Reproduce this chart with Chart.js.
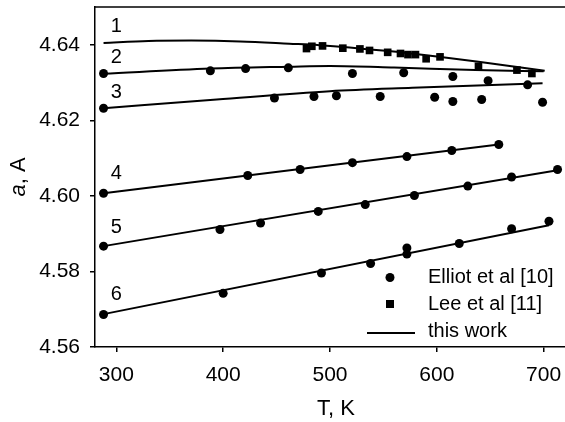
<!DOCTYPE html>
<html><head><meta charset="utf-8">
<script src="https://cdn.jsdelivr.net/npm/chart.js@4/dist/chart.umd.min.js"></script>
<style>html,body{margin:0;padding:0;background:#fff;}canvas{display:block;}</style>
</head><body>
<canvas id="c" width="565" height="422"></canvas>
<script>
// ---- data ----
const xTicks = [300, 400, 500, 600, 700];
const yTicks = [4.56, 4.58, 4.60, 4.62, 4.64];
const curveNames = ['1', '2', '3', '4', '5', '6'];
const legendNames = ['Elliot et al [10]', 'Lee et al [11]', 'this work'];
const xTitle = 'T, K';

const fit1T = [288, 330, 370, 416, 462, 490, 552, 600, 639, 670, 701];
const fit1A = [4.6405, 4.6410, 4.6411, 4.6409, 4.6403, 4.6399, 4.6384, 4.6369, 4.6355, 4.6343, 4.6331];
const fit2T = [288, 388, 462, 500, 560, 636, 700];
const fit2A = [4.6323, 4.6337, 4.6342, 4.6344, 4.6340, 4.6333, 4.6330];
const fit3T = [288, 394, 500, 577, 699];
const fit3A = [4.6232, 4.6255, 4.6277, 4.6286, 4.6298];
const fit4T = [288, 658];
const fit4A = [4.6007, 4.6136];
const fit5T = [288, 713];
const fit5A = [4.5867, 4.6068];
const fit6T = [288, 705];
const fit6A = [4.5687, 4.5922];

const elliotT = [288, 388, 421, 461, 521, 569, 615, 648,
  288, 448, 485, 506, 547, 598, 615, 642, 685, 699,
  288, 423, 472, 521, 572, 614, 658,
  288, 397, 435, 489, 533, 579, 629, 670, 713,
  288, 400, 492, 538, 572, 572, 621, 670, 705];
const elliotA = [4.6324, 4.6331, 4.6337, 4.6339, 4.6324, 4.6326, 4.6316, 4.6305,
  4.6232, 4.6259, 4.6263, 4.6265, 4.6263, 4.6261, 4.6250, 4.6255, 4.6294, 4.6248,
  4.6007, 4.6054, 4.6070, 4.6088, 4.6104, 4.6120, 4.6136,
  4.5867, 4.5911, 4.5928, 4.5959, 4.5977, 4.6001, 4.6026, 4.6050, 4.6070,
  4.5686, 4.5742, 4.5796, 4.5821, 4.5862, 4.5846, 4.5874, 4.5913, 4.5933];

const leeT = [478, 483, 493, 512, 528, 537, 554, 566, 573, 580, 590, 603, 639, 675, 689];
const leeA = [4.6390, 4.6396, 4.6397, 4.6391, 4.6389, 4.6385, 4.6380, 4.6377, 4.6374, 4.6374, 4.6363, 4.6368, 4.6343, 4.6333, 4.6324];

// ---- build ----
const pts = (T, A) => T.map((t, i) => ({x: t, y: A[i]}));
const fits = [[fit1T, fit1A], [fit2T, fit2A], [fit3T, fit3A], [fit4T, fit4A], [fit5T, fit5A], [fit6T, fit6A]];
const FONT = '"Liberation Sans", Arial, Helvetica, sans-serif';

const datasets = [
  {label: legendNames[0], data: pts(elliotT, elliotA), pointStyle: 'circle', pointRadius: 4.5,
   backgroundColor: '#000', borderColor: '#000', borderWidth: 0, showLine: false, clip: 10},
  {label: legendNames[1], data: pts(leeT, leeA), pointStyle: 'rect', pointRadius: 5.4,
   backgroundColor: '#000', borderColor: '#000', borderWidth: 0, showLine: false, clip: 10}
];
fits.forEach(([T, A], i) => datasets.push({
  label: legendNames[2], data: pts(T, A), showLine: true, pointRadius: 0,
  borderColor: '#000', borderWidth: 2, cubicInterpolationMode: 'monotone', fill: false, clip: 10
}));

const labelOffsets = [16, 16, 16, 19.5, 19, 19.5];

const decor = {
  id: 'decor',
  afterDraw(chart) {
    const {ctx, chartArea: ca, scales} = chart;
    const xs = scales.x, ys = scales.y;
    ctx.save();
    // top frame line
    ctx.strokeStyle = '#000'; ctx.lineWidth = 1.5;
    ctx.beginPath(); ctx.moveTo(ca.left, ca.top); ctx.lineTo(ca.right, ca.top); ctx.stroke();
    // curve numbers
    ctx.fillStyle = '#000';
    ctx.font = '20px ' + FONT;
    ctx.textAlign = 'center'; ctx.textBaseline = 'middle';
    fits.forEach(([T, A], i) => {
      ctx.fillText(curveNames[i], xs.getPixelForValue(xTicks[0]), ys.getPixelForValue(A[0]) - labelOffsets[i]);
    });
    // legend
    ctx.font = '20px ' + FONT;
    ctx.textAlign = 'left'; ctx.textBaseline = 'middle';
    const tx = 428, mx = 390;
    const rows = [ca.bottom - 69.5, ca.bottom - 43, ca.bottom - 15.5];
    ctx.beginPath(); ctx.arc(mx, rows[0], 4.5, 0, Math.PI * 2); ctx.fill();
    ctx.fillRect(mx - 4, rows[1] - 4, 8, 8);
    ctx.lineWidth = 2;
    ctx.beginPath(); ctx.moveTo(mx - 23, rows[2] + 1.5); ctx.lineTo(mx + 25, rows[2] + 1.5); ctx.stroke();
    legendNames.forEach((n, i) => ctx.fillText(n, tx, rows[i]));
    // x title
    ctx.font = '22px ' + FONT;
    ctx.textAlign = 'center'; ctx.textBaseline = 'alphabetic';
    ctx.fillText(xTitle, 336, 415);
    // y title: italic a, normal ", A"
    ctx.translate(25, (ca.top + ca.bottom) / 2);
    ctx.rotate(-Math.PI / 2);
    ctx.textAlign = 'left';
    const fI = 'italic 22px ' + FONT, fN = '22px ' + FONT;
    ctx.font = fI; const w1 = ctx.measureText('a').width;
    ctx.font = fN; const w2 = ctx.measureText(', A').width;
    const x0 = -(w1 + w2) / 2;
    ctx.font = fI; ctx.fillText('a', x0, 0);
    ctx.font = fN; ctx.fillText(', A', x0 + w1, 0);
    ctx.restore();
  }
};

new Chart(document.getElementById('c'), {
  type: 'scatter',
  data: {datasets},
  options: {
    responsive: false,
    animation: false,
    devicePixelRatio: 1,
    layout: {autoPadding: false, padding: {top: 7, left: 0, right: 0, bottom: 0}},
    plugins: {legend: {display: false}, tooltip: {enabled: false}},
    scales: {
      x: {
        type: 'linear', min: 280, max: 720,
        afterBuildTicks: s => { s.ticks = xTicks.map(v => ({value: v})); },
        afterFit: s => { s.height = 75; s.paddingLeft = 0; s.paddingRight = 0; },
        grid: {display: true, drawOnChartArea: false, drawTicks: true, tickLength: 5, color: '#000', lineWidth: 1.5},
        border: {display: true, color: '#000', width: 1.5},
        ticks: {color: '#000', font: {family: FONT, size: 21}, padding: 11, maxRotation: 0, autoSkip: false,
                callback: v => String(v)}
      },
      y: {
        type: 'linear', min: 4.56, max: 4.65,
        afterBuildTicks: s => { s.ticks = yTicks.map(v => ({value: v})); },
        afterFit: s => { s.width = 95; s.paddingTop = 0; s.paddingBottom = 0; },
        grid: {display: true, drawOnChartArea: false, drawTicks: true, tickLength: 5, color: '#000', lineWidth: 1.5},
        border: {display: true, color: '#000', width: 1.5},
        ticks: {color: '#000', font: {family: FONT, size: 21}, padding: 10, autoSkip: false,
                callback: v => Number(v).toFixed(2)}
      }
    }
  },
  plugins: [decor]
});
</script>
</body></html>
